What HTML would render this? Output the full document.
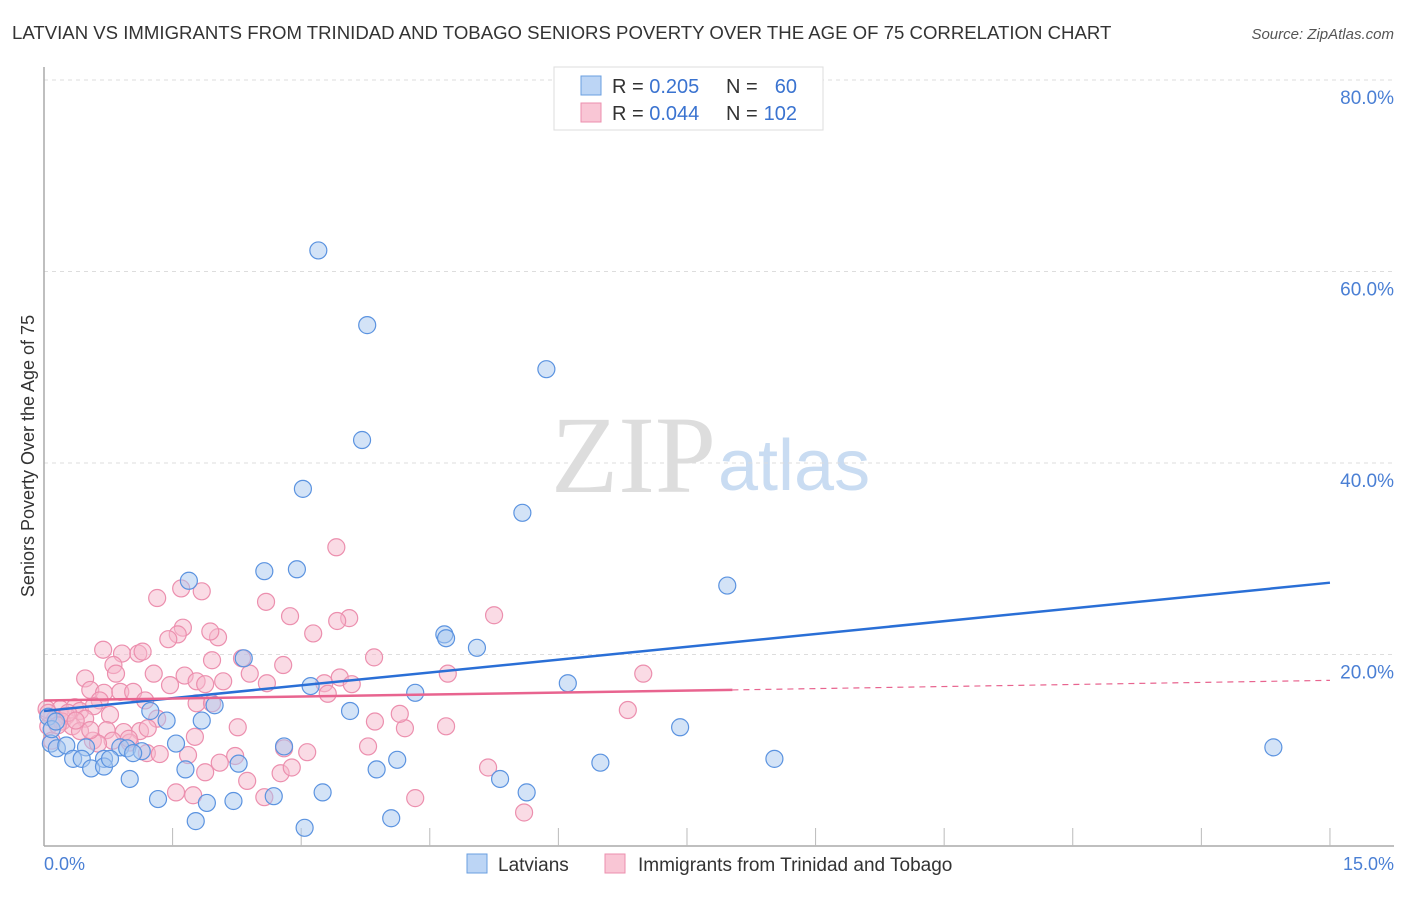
<!DOCTYPE html>
<html><head><meta charset="utf-8">
<style>
body{margin:0;background:#fff;font-family:"Liberation Sans",sans-serif;}
</style></head>
<body>
<svg id="chart" width="1406" height="892" xmlns="http://www.w3.org/2000/svg" style="font-family:'Liberation Sans',sans-serif">
<text x="12" y="39" font-size="18.6" fill="#333">LATVIAN VS IMMIGRANTS FROM TRINIDAD AND TOBAGO SENIORS POVERTY OVER THE AGE OF 75 CORRELATION CHART</text>
<text x="1394" y="39" font-size="15" fill="#555" font-style="italic" text-anchor="end">Source: ZipAtlas.com</text>
<text x="716" y="492" font-size="110" fill="#ddd" text-anchor="end" style="font-family:'Liberation Serif',serif">ZIP</text>
<text x="718" y="490" font-size="72" fill="#c9dcf2">atlas</text>
<g id="grid"></g>
<g id="axes"></g>
<g id="pink"></g>
<g id="blue"></g>
<g id="lines"></g>
<text transform="translate(34,456) rotate(-90)" font-size="18" fill="#333" text-anchor="middle">Seniors Poverty Over the Age of 75</text>
<text x="44" y="870" font-size="18" fill="#4a7fd4">0.0%</text>
<text x="1394" y="870" font-size="18" fill="#4a7fd4" text-anchor="end">15.0%</text>
<g>
<rect x="554" y="67" width="269" height="63" fill="#fff" stroke="#ddd"/>
<rect x="581" y="76" width="20" height="19" fill="#bcd5f5" stroke="#6a9fe0"/>
<rect x="581" y="103" width="20" height="19" fill="#f9c6d5" stroke="#ec8fae"/>
<text x="612" y="93" font-size="20" fill="#333">R = <tspan fill="#3a73d0">0.205</tspan></text>
<text x="726" y="93" font-size="20" fill="#333">N = </text><text x="797" y="93" font-size="20" fill="#3a73d0" text-anchor="end">60</text>
<text x="612" y="120" font-size="20" fill="#333">R = <tspan fill="#3a73d0">0.044</tspan></text>
<text x="726" y="120" font-size="20" fill="#333">N = </text><text x="797" y="120" font-size="20" fill="#3a73d0" text-anchor="end">102</text>
</g>
<g>
<rect x="467" y="854" width="20" height="19" fill="#bcd5f5" stroke="#6a9fe0"/>
<text x="498" y="871" font-size="19" fill="#333">Latvians</text>
<rect x="605" y="854" width="20" height="19" fill="#f9c6d5" stroke="#ec8fae"/>
<text x="638" y="871" font-size="19" fill="#333">Immigrants from Trinidad and Tobago</text>
</g>
</svg>
<script>
const yTicks=[20,40,60,80];
const yTickLabels=["20.0%","40.0%","60.0%","80.0%"];
const blueX=[3.2,3.77,5.86,3.71,3.02,5.58,7.97,1.69,2.57,2.95,4.67,4.69,5.05,2.33,6.11,3.11,4.33,3.57,1.24,1.84,1.43,1.99,7.42,1.54,2.8,14.34,0.08,0.15,0.26,0.49,0.7,0.89,0.97,1.14,1.04,0.34,0.44,0.55,0.7,0.77,1.0,1.65,2.27,3.88,4.12,6.49,8.52,5.32,5.63,3.25,2.68,1.33,1.9,2.21,1.77,4.05,3.04,0.05,0.09,0.14];
const blueY=[62.2,54.4,49.8,42.4,37.3,34.8,27.2,27.7,28.7,28.9,22.1,21.7,20.7,19.6,17.0,16.7,16.0,14.1,14.1,13.1,13.1,14.7,12.4,10.7,10.4,10.3,10.7,10.2,10.5,10.3,9.1,10.3,10.2,9.9,9.7,9.1,9.1,8.1,8.3,9.1,7.0,8.0,8.6,8.0,9.0,8.7,9.1,7.0,5.6,5.6,5.2,4.9,4.5,4.7,2.6,2.9,1.9,13.5,12.2,13.0];
const pinkX=[3.41,1.32,1.6,1.84,2.59,2.87,3.56,3.42,5.25,1.62,1.56,1.45,2.03,1.94,3.14,0.69,0.91,1.1,1.15,2.31,3.85,1.96,0.81,0.48,0.84,1.28,1.64,1.78,2.09,2.4,1.88,2.79,2.6,3.27,3.45,3.59,4.71,6.99,0.54,0.7,0.89,1.04,1.18,1.47,1.78,1.96,3.31,0.65,0.03,0.19,0.36,0.42,0.58,0.26,0.48,0.77,0.13,0.05,0.21,0.33,0.42,0.73,0.93,1.12,1.32,2.26,3.86,4.21,4.69,6.81,4.15,1.76,0.57,0.8,1.0,1.2,1.35,1.68,2.23,2.8,3.07,3.78,0.63,0.99,1.88,2.37,2.76,2.89,5.18,1.54,1.74,2.57,4.33,5.6,0.05,0.09,0.16,0.28,0.37,0.54,1.21,2.05];
const pinkY=[31.2,25.9,26.9,26.6,25.5,24.0,23.8,23.5,24.1,22.8,22.1,21.6,21.8,22.4,22.2,20.5,20.1,20.1,20.3,19.6,19.7,19.4,18.9,17.5,18.0,18.0,17.8,17.2,17.2,18.0,16.9,18.9,17.0,17.0,17.6,16.9,18.0,18.0,16.3,16.0,16.1,16.1,15.2,16.8,14.9,14.9,15.9,15.2,14.3,14.3,14.5,14.1,14.6,13.6,13.3,13.7,13.3,12.5,13.0,12.5,12.0,12.1,11.9,12.0,13.3,12.4,13.0,12.3,12.5,14.2,13.8,11.4,11.0,11.0,10.8,9.7,9.6,9.5,9.4,10.2,9.8,10.4,10.7,11.2,7.7,6.8,7.6,8.2,8.2,5.6,5.3,5.1,5.0,3.5,13.9,11.0,12.6,13.9,13.1,12.1,12.3,8.7];
const blueLine=[[0,14.1],[15,27.5]];
const pinkLine=[[0,15.2],[8.03,16.3]];
const pinkDash=[[8.03,16.3],[15,17.3]];
const NS="http://www.w3.org/2000/svg";
const xs=v=>44+v*85.73, ys=v=>846-v*9.575;
function mk(t,a,p){const e=document.createElementNS(NS,t);for(const k in a)e.setAttribute(k,a[k]);p.appendChild(e);return e;}
const grid=document.getElementById('grid'),axes=document.getElementById('axes');
yTicks.forEach((t,i)=>{
  const l=mk('line',{x1:44,x2:1394,y1:ys(t),y2:ys(t),stroke:'#ddd','stroke-dasharray':'4,4'},grid);
  
  
  const tx=mk('text',{x:1394,y:ys(t)+24,'font-size':19,fill:'#4a7fd4','text-anchor':'end'},grid);
  tx.textContent=yTickLabels[i];
  
  
});
const ya=mk('line',{x1:44,x2:44,y1:67,y2:846,stroke:'#aaa','stroke-width':1.5},axes);


const xa=mk('line',{x1:44,x2:1394,y1:846,y2:846,stroke:'#aaa','stroke-width':1.5},axes);


for(let i=1;i<=10;i++){const tk=mk('line',{x1:xs(i*1.5),x2:xs(i*1.5),y1:828,y2:846,stroke:'#bbb'},axes);
  
  }
function dots(X,Y,g,fill,stroke,name){X.forEach((x,i)=>{const c=mk('circle',{cx:xs(x),cy:ys(Y[i]),r:8.5,fill:fill,'fill-opacity':0.5,stroke:stroke,'stroke-width':1.2},g);
  
  });}
dots(pinkX,pinkY,document.getElementById('pink'),'#f5b8cb','#ec8fae','immigrant-point');
dots(blueX,blueY,document.getElementById('blue'),'#a8c8f0','#5b93e0','latvian-point');
const lg=document.getElementById('lines');
const bl=mk('line',{x1:xs(blueLine[0][0]),y1:ys(blueLine[0][1]),x2:xs(blueLine[1][0]),y2:ys(blueLine[1][1]),stroke:'#2a6fd6','stroke-width':2.5},lg);


const pl=mk('line',{x1:xs(pinkLine[0][0]),y1:ys(pinkLine[0][1]),x2:xs(pinkLine[1][0]),y2:ys(pinkLine[1][1]),stroke:'#e8648f','stroke-width':2.5},lg);


const pd=mk('line',{x1:xs(pinkDash[0][0]),y1:ys(pinkDash[0][1]),x2:xs(pinkDash[1][0]),y2:ys(pinkDash[1][1]),stroke:'#e8648f','stroke-width':1.2,'stroke-dasharray':'6,5'},lg);


</script>
</body></html>
